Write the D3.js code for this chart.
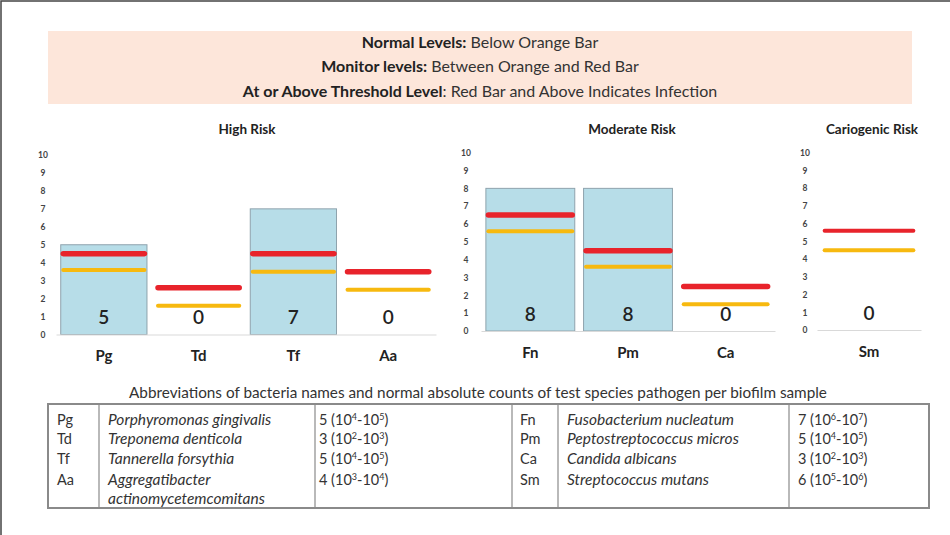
<!DOCTYPE html>
<html>
<head>
<meta charset="utf-8">
<script src="https://cdn.jsdelivr.net/npm/d3@7"></script>
<style>
  body { margin: 0; background: #fff; }
  svg text { font-family: Lato, "Open Sans", sans-serif; fill: #222; }
</style>
</head>
<body>
<svg id="chart" width="950" height="535"></svg>
<script>
// chart values
const highCats = ["Pg", "Td", "Tf", "Aa"]
const highValues = [5, 0, 7, 0]
const highRed = [4.5, 2.6, 4.5, 3.5]
const highOrange = [3.6, 1.6, 3.5, 2.5]

const modCats = ["Fn", "Pm", "Ca"]
const modValues = [8, 8, 0]
const modRed = [6.5, 4.5, 2.5]
const modOrange = [5.6, 3.6, 1.5]

const carioCats = ["Sm"]
const carioValues = [0]
const carioRed = [5.6]
const carioOrange = [4.5]

const yTicks = [0, 1, 2, 3, 4, 5, 6, 7, 8, 9, 10]

// header lines: bold part, normal part
const headBold = ["Normal Levels:", "Monitor levels:", "At or Above Threshold Level"]
const headRest = [" Below Orange Bar", " Between Orange and Red Bar", ": Red Bar and Above Indicates Infection"]

// table
const leftAbbr = ["Pg", "Td", "Tf", "Aa"]
const leftNames = ["Porphyromonas gingivalis", "Treponema denticola", "Tannerella forsythia", "Aggregatibacter\nactinomycetemcomitans"]
const leftCount = [5, 3, 5, 4]
const leftLow = [4, 2, 4, 3]
const leftHigh = [5, 3, 5, 4]
const rightAbbr = ["Fn", "Pm", "Ca", "Sm"]
const rightNames = ["Fusobacterium nucleatum", "Peptostreptococcus micros", "Candida albicans", "Streptococcus mutans"]
const rightCount = [7, 5, 3, 6]
const rightLow = [6, 4, 2, 5]
const rightHigh = [7, 5, 3, 6]

const svg = d3.select('#chart')

// thin frame on the left and top
svg.append('path')
    .attr('d', 'M1,535V1H950')
    .attr('fill', 'none')
    .attr('stroke', '#444')
    .attr('stroke-width', 1.5)

// header box
svg.append('rect')
    .attr('x', 48).attr('y', 31)
    .attr('width', 864).attr('height', 73)
    .attr('fill', '#fde6da')

const headY = [42, 66, 91]
headBold.forEach((b, i) => {
    const t = svg.append('text')
        .attr('x', 480).attr('y', headY[i])
        .attr('dy', '0.35em')
        .attr('text-anchor', 'middle')
        .style('font-size', '16px')
        .style('fill', '#333')
    t.append('tspan').attr('font-weight', 'bold').style('fill', '#222').text(b)
    t.append('tspan').text(headRest[i])
})

// one panel per risk group
function panel(cats, values, red, orange, opt) {
    const g = svg.append('g')
    const x = d3.scaleBand()
        .domain(cats)
        .range(opt.xr)
        .paddingInner(0.09)
        .paddingOuter(0.05)
    const y = d3.scaleLinear()
        .domain([0, 10])
        .range(opt.yr)

    g.append('text')
        .attr('x', opt.tx).attr('y', 129)
        .attr('dy', '0.35em')
        .attr('text-anchor', 'middle')
        .attr('font-weight', 'bold')
        .style('font-size', '13.5px')
        .text(opt.title)

    // y tick labels only
    const ya = g.append('g')
        .attr('transform', `translate(${opt.ax},0)`)
        .call(d3.axisLeft(y).tickValues(yTicks).tickSize(0).tickPadding(0))
    ya.select('.domain').remove()
    ya.selectAll('text')
        .attr('text-anchor', 'middle')
        .style('font-family', 'Lato, sans-serif')
        .style('font-size', '8.5px')
        .style('font-weight', 'bold')
        .style('fill', '#444')

    // bars
    g.selectAll('rect.bar')
        .data(cats.filter((d, i) => values[i] > 0))
        .enter()
        .append('rect')
        .attr('class', 'bar')
        .attr('x', d => x(d))
        .attr('y', d => y(values[cats.indexOf(d)]))
        .attr('width', x.bandwidth())
        .attr('height', d => y(0) - y(values[cats.indexOf(d)]))
        .attr('fill', '#b7dde8')
        .attr('stroke', '#8fa3ad')
        .attr('stroke-width', 1)

    // baseline and category labels
    const xa = g.append('g')
        .attr('transform', `translate(0,${y(0)})`)
        .call(d3.axisBottom(x).tickSize(0).tickSizeOuter(0).tickPadding(16))
    xa.select('.domain').attr('stroke', '#d9d9d9')
    xa.selectAll('text')
        .style('font-family', 'Lato, sans-serif')
        .style('font-size', '15px')
        .style('font-weight', 'bold')
        .style('fill', '#222')

    // orange and red threshold bars
    g.selectAll('line.orange')
        .data(cats)
        .enter()
        .append('line')
        .attr('x1', d => x(d) + 2.5)
        .attr('x2', d => x(d) + x.bandwidth() - 2.5)
        .attr('y1', (d, i) => y(orange[i]))
        .attr('y2', (d, i) => y(orange[i]))
        .attr('stroke', '#f7b90f')
        .attr('stroke-width', 4)
        .attr('stroke-linecap', 'round')
    g.selectAll('line.red')
        .data(cats)
        .enter()
        .append('line')
        .attr('x1', d => x(d) + 2.5)
        .attr('x2', d => x(d) + x.bandwidth() - 2.5)
        .attr('y1', (d, i) => y(red[i]))
        .attr('y2', (d, i) => y(red[i]))
        .attr('stroke', '#e8232b')
        .attr('stroke-width', opt.redW)
        .attr('stroke-linecap', 'round')

    // value labels
    g.selectAll('text.val')
        .data(cats)
        .enter()
        .append('text')
        .attr('x', d => x(d) + x.bandwidth() / 2)
        .attr('y', y(0) - 17)
        .attr('dy', '0.35em')
        .attr('text-anchor', 'middle')
        .style('font-size', '19px')
        .style('font-weight', '600')
        .text((d, i) => values[i])
}

panel(highCats, highValues, highRed, highOrange,
    { xr: [56, 436], yr: [334.5, 155], tx: 247, ax: 43, title: 'High Risk', redW: 5.5 })
panel(modCats, modValues, modRed, modOrange,
    { xr: [481, 775], yr: [331, 152.7], tx: 632, ax: 466, title: 'Moderate Risk', redW: 5.5 })
panel(carioCats, carioValues, carioRed, carioOrange,
    { xr: [817, 921], yr: [330, 152.7], tx: 872, ax: 805, title: 'Cariogenic Risk', redW: 4 })

// caption
svg.append('text')
    .attr('x', 478).attr('y', 393)
    .attr('dy', '0.35em')
    .attr('text-anchor', 'middle')
    .style('font-size', '15.3px')
    .style('fill', '#333')
    .text('Abbreviations of bacteria names and normal absolute counts of test species pathogen per biofilm sample')

// table frame
const tbl = svg.append('g')
tbl.append('rect')
    .attr('x', 48).attr('y', 404)
    .attr('width', 881).attr('height', 104)
    .attr('fill', 'none')
    .attr('stroke', '#8a8a8a')
    .attr('stroke-width', 2)
const colLines = [99, 315, 512, 558, 789]
tbl.selectAll('line.col')
    .data(colLines)
    .enter()
    .append('line')
    .attr('x1', d => d).attr('x2', d => d)
    .attr('y1', 404).attr('y2', 508)
    .attr('stroke', '#8a8a8a')
    .attr('stroke-width', 1.2)

const rowY = [420, 439, 459, 480, 499]

function tableSide(abbr, names, count, low, high, xs) {
    abbr.forEach((a, i) => {
        tbl.append('text')
            .attr('x', xs[0]).attr('y', rowY[i]).attr('dy', '0.35em')
            .style('font-size', '14.5px').style('fill', '#333')
            .text(a)
        names[i].split('\n').forEach((part, k) => {
            tbl.append('text')
                .attr('x', xs[1]).attr('y', rowY[i + k]).attr('dy', '0.35em')
                .style('font-size', '15.5px').style('font-style', 'italic').style('fill', '#333')
                .text(part)
        })
        const t = tbl.append('text')
            .attr('x', xs[2]).attr('y', rowY[i]).attr('dy', '0.35em')
            .style('font-size', '14.5px').style('fill', '#333')
        t.append('tspan').text(count[i] + ' (10')
        t.append('tspan').attr('dy', -5).style('font-size', '9px').text(low[i])
        t.append('tspan').attr('dy', 5).text('-10')
        t.append('tspan').attr('dy', -5).style('font-size', '9px').text(high[i])
        t.append('tspan').attr('dy', 5).text(')')
    })
}
tableSide(leftAbbr, leftNames, leftCount, leftLow, leftHigh, [57, 108, 319])
tableSide(rightAbbr, rightNames, rightCount, rightLow, rightHigh, [520, 567, 798])
</script>
</body>
</html>
